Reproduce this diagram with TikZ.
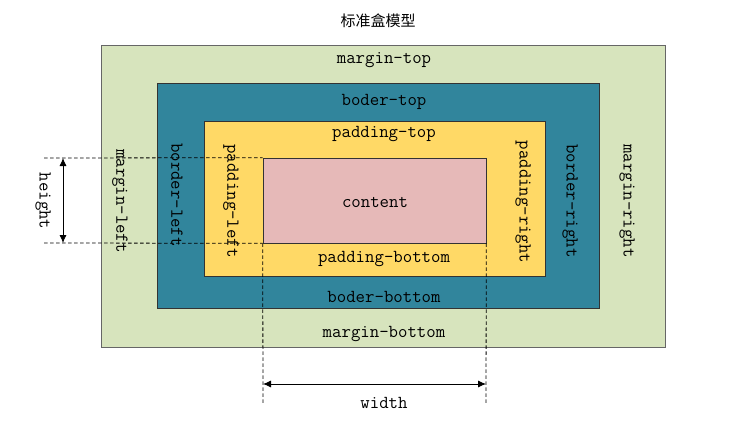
\documentclass[tikz,border=0pt]{standalone}
\usepackage{fontspec}
\newfontfamily\cjk{Noto Sans CJK SC}
\usetikzlibrary{arrows.meta,positioning}

\definecolor{marginc}{HTML}{D7E4BD}
\definecolor{borderc}{HTML}{31859C}
\definecolor{paddingc}{HTML}{FFD966}
\definecolor{contentc}{HTML}{E6B9B8}

\tikzset{
    box/.style={draw=black!80, inner sep=0pt, line width=0.6pt},
    dim/.style={{Latex[length=8pt,width=7pt]}-{Latex[length=8pt,width=7pt]}, line width=0.8pt},
    guide/.style={dash pattern=on 3.5pt off 2.5pt, line width=0.8pt},
    side/.style={rotate=-90}
}

\begin{document}
\begin{tikzpicture}[x=1pt, y=-1pt]
    \useasboundingbox (0,0) rectangle (743,423);
    \ttfamily\fontsize{18.3}{20}\selectfont

    % the four nested boxes
    \node [box, draw=black!60, fill=marginc, minimum width=564pt, minimum height=302pt] (margin) at (383,196) {};
    \node [box, fill=borderc, minimum width=442pt, minimum height=225pt] (border) at (378,195.5) {};
    \node [box, fill=paddingc, minimum width=341pt, minimum height=155pt] (padding) at (374.5,198.5) {};
    \node [box, fill=contentc, minimum width=223pt, minimum height=85pt] (content) at (374.5,200.5) {};

    \node (title) at (378,21) {\cjk\fontsize{15}{18}\selectfont 标准盒模型};

    % horizontal labels
    \node (mtop) at (384,60) {margin-top};
    \node (btop) at (384,102) {boder-top};
    \node (ptop) at (384,134) {padding-top};
    \node (ctext) at (375,202) {content};
    \node (pbot) at (384,259) {padding-bottom};
    \node (bbot) at (384,297) {boder-bottom};
    \node (mbot) at (384,334) {margin-bottom};

    % vertical labels
    \node [side] (mleft) at (120,201) {margin-left};
    \node [side] (bleft) at (177,195) {border-left};
    \node [side] (pleft) at (231,201) {padding-left};
    \node [side] (pright) at (523,202) {padding-right};
    \node [side] (bright) at (570,201) {border-right};
    \node [side] (mright) at (627,201) {margin-right};

    % height
    \coordinate (htop) at (44,158);
    \coordinate (hbot) at (44,243);
    \draw [guide] (htop) -- (content.north west);
    \draw [guide] (hbot) -- (content.south west);
    \draw [dim] (63,158) -- (63,243);
    \node [side] (hlabel) at (43,201) {height};

    % width
    \coordinate (wleft) at (263,403);
    \coordinate (wright) at (486,403);
    \draw [guide] (content.south west) -- (wleft);
    \draw [guide] (content.south east) -- (wright);
    \draw [dim] (263,384) -- (486,384);
    \node (wlabel) at (384,403) {width};
\end{tikzpicture}
\end{document}
